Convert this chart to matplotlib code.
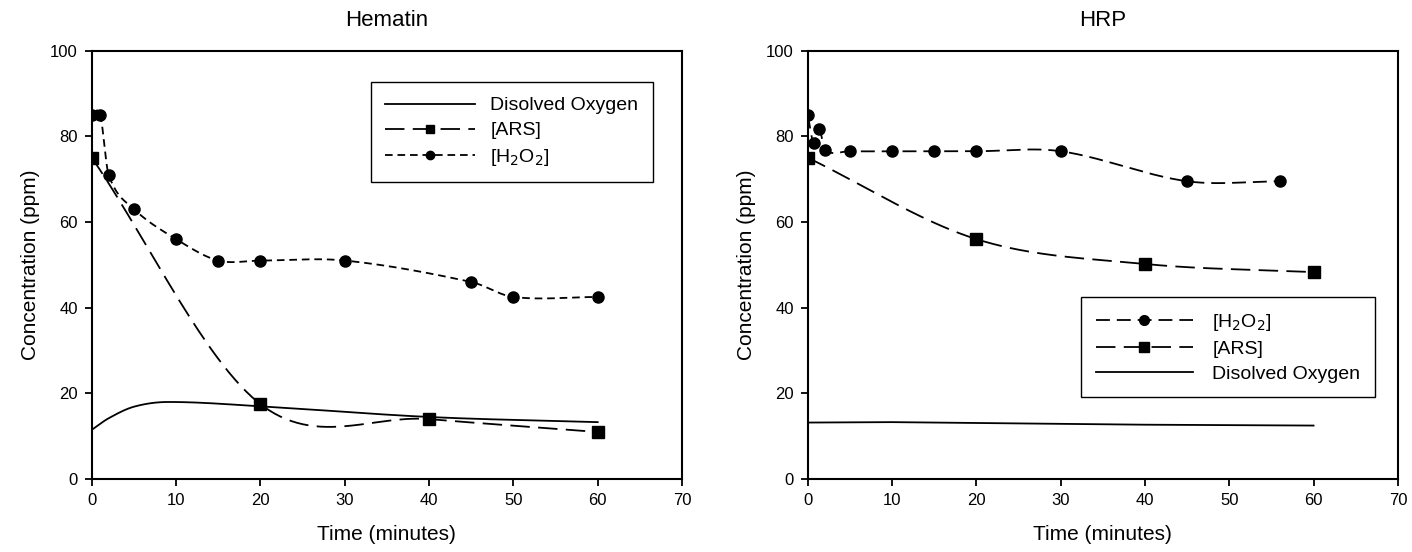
import numpy as np
import matplotlib
matplotlib.use("Agg")
import matplotlib.pyplot as plt
from matplotlib.lines import Line2D

plt.rcParams['font.family'] = ['Liberation Sans', 'DejaVu Sans']
plt.rcParams['lines.scale_dashes'] = False

# Hematin panel
hem_h2o2_t = [0, 1, 2, 5, 10, 15, 20, 30, 45, 50, 60]
hem_h2o2 = [85, 85, 71, 63, 56, 51, 51, 51, 46, 42.5, 42.5]
hem_ars_t = [0, 20, 40, 60]
hem_ars = [75, 17.5, 14, 11]
hem_do_t = [0, 2, 5, 9, 20, 40, 60]
hem_do = [11.5, 14.2, 16.9, 18, 17, 14.5, 13.3]

# HRP panel
hrp_h2o2_t = [0, 0.7, 1.4, 2, 5, 10, 15, 20, 30, 45, 56]
hrp_h2o2 = [85, 78.5, 81.8, 76.8, 76.5, 76.5, 76.5, 76.5, 76.5, 69.5, 69.5]
hrp_ars_t = [0, 20, 40, 60]
hrp_ars = [75, 56, 50.2, 48.3]
hrp_do_t = [0, 10, 20, 30, 40, 50, 60]
hrp_do = [13.2, 13.3, 13.1, 12.9, 12.7, 12.6, 12.5]


def smooth(x, y, n=60):
    # cardinal (Catmull-Rom style) curve through the points, for drawing only
    x = np.asarray(x, float)
    y = np.asarray(y, float)
    m = np.zeros_like(y)
    m[0] = (y[1] - y[0]) / (x[1] - x[0])
    m[-1] = (y[-1] - y[-2]) / (x[-1] - x[-2])
    m[1:-1] = (y[2:] - y[:-2]) / (x[2:] - x[:-2])
    xs_all, ys_all = [], []
    for i in range(len(x) - 1):
        h = x[i + 1] - x[i]
        t = np.linspace(0, 1, n)
        h00 = 2 * t ** 3 - 3 * t ** 2 + 1
        h10 = t ** 3 - 2 * t ** 2 + t
        h01 = -2 * t ** 3 + 3 * t ** 2
        h11 = t ** 3 - t ** 2
        xs_all.append(x[i] + t * h)
        ys_all.append(h00 * y[i] + h10 * h * m[i] + h01 * y[i + 1] + h11 * h * m[i + 1])
    return np.concatenate(xs_all), np.concatenate(ys_all)


fig = plt.figure(figsize=(14.12, 5.52), dpi=100)
ax1 = fig.add_axes([0.065, 0.132, 0.418, 0.7765])
ax2 = fig.add_axes([0.572, 0.132, 0.418, 0.7765])

lw = 1.3
h2o2_dash_l = (0, (5.5, 3.5))
ars_dash_l = (0, (14, 6))
h2o2_dash_r = (0, (10, 5))
ars_dash_r = (0, (14, 6))

# -------------------------------
# Hematin
# -------------------------------
xs, ys = smooth(hem_do_t, hem_do)
ax1.plot(xs, ys, color='black', lw=lw)
xs, ys = smooth(hem_ars_t, hem_ars)
ax1.plot(xs, ys, color='black', lw=lw, ls=ars_dash_l)
ax1.plot(hem_ars_t, hem_ars, 's', color='black', ms=8.5)
xs, ys = smooth(hem_h2o2_t, hem_h2o2)
ax1.plot(xs, ys, color='black', lw=lw, ls=h2o2_dash_l)
ax1.plot(hem_h2o2_t, hem_h2o2, 'o', color='black', ms=8)
ax1.set_title("Hematin", fontsize=16, pad=18)

handles1 = [
    Line2D([], [], color='black', lw=lw),
    Line2D([], [], color='black', lw=lw, ls=ars_dash_l, marker='s', ms=6),
    Line2D([], [], color='black', lw=lw, ls=h2o2_dash_l, marker='o', ms=6),
]
ax1.legend(handles1, ["Disolved Oxygen", "[ARS]", "[H$_2$O$_2$]"],
           loc='upper right', bbox_to_anchor=(0.951, 0.926), handlelength=4.6,
           fontsize=14, fancybox=False, edgecolor='black', framealpha=1,
           borderpad=0.75, labelspacing=0.38, handletextpad=0.8,
           borderaxespad=0)

# -------------------------------
# HRP
# -------------------------------
ax2.plot(hrp_do_t, hrp_do, color='black', lw=lw)
xs, ys = smooth(hrp_ars_t, hrp_ars)
ax2.plot(xs, ys, color='black', lw=lw, ls=ars_dash_r)
ax2.plot(hrp_ars_t, hrp_ars, 's', color='black', ms=8.5)
xs, ys = smooth(hrp_h2o2_t, hrp_h2o2)
ax2.plot(xs, ys, color='black', lw=lw, ls=h2o2_dash_r)
ax2.plot(hrp_h2o2_t, hrp_h2o2, 'o', color='black', ms=8)
ax2.set_title("HRP", fontsize=16, pad=18)

handles2 = [
    Line2D([], [], color='black', lw=lw, ls=h2o2_dash_r, marker='o', ms=7),
    Line2D([], [], color='black', lw=lw, ls=ars_dash_r, marker='s', ms=7.5),
    Line2D([], [], color='black', lw=lw),
]
ax2.legend(handles2, ["[H$_2$O$_2$]", "[ARS]", "Disolved Oxygen"],
           loc='upper right', bbox_to_anchor=(0.961, 0.425), handlelength=5.0,
           fontsize=14, fancybox=False, edgecolor='black', framealpha=1,
           borderpad=0.75, labelspacing=0.38, handletextpad=1.0,
           borderaxespad=0)

for ax in (ax1, ax2):
    ax.set_xlim(0, 70)
    ax.set_ylim(0, 100)
    ax.set_xticks(range(0, 71, 10))
    ax.set_yticks(range(0, 101, 20))
    ax.tick_params(direction='out', length=5, width=1.3, labelsize=12, pad=5)
    for s in ax.spines.values():
        s.set_linewidth(1.5)
    ax.set_xlabel("Time (minutes)", fontsize=15, labelpad=12)
    ax.set_ylabel("Concentration (ppm)", fontsize=15, labelpad=7)

fig.savefig("out.png", dpi=100)
